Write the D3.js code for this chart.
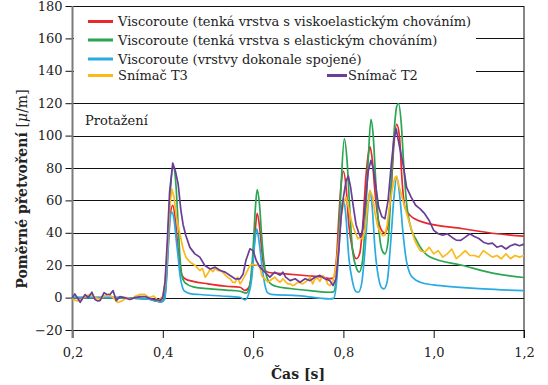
<!DOCTYPE html>
<html>
<head>
<meta charset="utf-8">
<script src="https://cdn.jsdelivr.net/npm/d3@7"></script>
<style>
  body { margin: 0; background: #fff; }
  svg text { font-family: "DejaVu Serif", serif; fill: #222; }
</style>
</head>
<body>
<svg width="548" height="385"></svg>
<script>
// tick values
const xTicks = [0.2, 0.4, 0.6, 0.8, 1.0, 1.2];
const yTicks = [-20, 0, 20, 40, 60, 80, 100, 120, 140, 160, 180];

// Viscoroute - viskoelastic
const tRed = [0.2, 0.25, 0.3, 0.35, 0.37, 0.385, 0.397, 0.404, 0.408, 0.412, 0.416, 0.422, 0.427, 0.432, 0.437, 0.442, 0.45, 0.467, 0.5, 0.54, 0.571, 0.582, 0.59, 0.597, 0.603, 0.609, 0.615, 0.62, 0.626, 0.635, 0.666, 0.72, 0.755, 0.77, 0.777, 0.785, 0.79, 0.795, 0.8, 0.806, 0.812, 0.82, 0.829, 0.836, 0.843, 0.85, 0.856, 0.859, 0.864, 0.87, 0.878, 0.886, 0.892, 0.899, 0.906, 0.912, 0.918, 0.924, 0.93, 0.936, 0.947, 0.976, 1.065, 1.14, 1.2];
const vRed = [0, 0, 0, -0.5, -1, -2, -2.5, 0, 12, 32, 50, 57, 50, 35, 22, 14, 11.5, 10, 8.5, 7, 6.4, 4.5, 6, 15, 35, 52, 42, 27, 17, 15.5, 14.8, 13.5, 12.6, 11.7, 12, 25, 50, 70, 78, 68, 45, 30, 24, 27, 45, 75, 90, 93, 85, 65, 47, 41, 40, 45, 68, 95, 107, 100, 72, 56, 51, 46.6, 42.5, 39.4, 37.9];

// Viscoroute - elastic
const tGreen = [0.2, 0.3, 0.37, 0.385, 0.397, 0.404, 0.408, 0.412, 0.416, 0.423, 0.429, 0.434, 0.438, 0.442, 0.447, 0.455, 0.47, 0.5, 0.54, 0.571, 0.585, 0.593, 0.6, 0.605, 0.609, 0.614, 0.619, 0.624, 0.63, 0.637, 0.65, 0.682, 0.73, 0.77, 0.778, 0.785, 0.79, 0.795, 0.802, 0.808, 0.814, 0.82, 0.828, 0.835, 0.842, 0.849, 0.855, 0.861, 0.866, 0.872, 0.88, 0.886, 0.892, 0.899, 0.906, 0.913, 0.918, 0.922, 0.928, 0.934, 0.94, 0.947, 0.962, 0.992, 1.065, 1.14, 1.2];
const vGreen = [0, 0, -1, -2, -2.5, 0, 15, 40, 62, 81, 70, 45, 25, 14, 10, 8, 6.5, 5.5, 4.6, 3.9, 2.8, 8, 30, 55, 66.6, 58, 38, 22, 13, 9, 7, 5.6, 4.2, 3.3, 3.5, 15, 40, 70, 98, 85, 55, 30, 19, 15.7, 22, 50, 85, 110, 100, 70, 38, 29, 27, 35, 70, 105, 118, 119.8, 108, 80, 58, 45.6, 35.3, 25, 19.8, 14.6, 12.4];

// Viscoroute - perfectly bonded
const tBlue = [0.2, 0.3, 0.37, 0.385, 0.397, 0.404, 0.408, 0.412, 0.416, 0.42, 0.425, 0.43, 0.434, 0.438, 0.442, 0.448, 0.46, 0.482, 0.53, 0.571, 0.582, 0.59, 0.597, 0.603, 0.608, 0.613, 0.62, 0.626, 0.632, 0.64, 0.7, 0.77, 0.778, 0.785, 0.79, 0.795, 0.8, 0.805, 0.812, 0.82, 0.827, 0.833, 0.84, 0.848, 0.855, 0.859, 0.864, 0.87, 0.878, 0.885, 0.89, 0.897, 0.905, 0.912, 0.918, 0.925, 0.932, 0.94, 0.947, 0.955, 0.97, 1.0, 1.05, 1.1, 1.15, 1.2];
const vBlue = [0, 0, -1, -2, -2.5, -1, 10, 30, 48, 52.8, 48, 35, 25, 14, 8, 4, 2.5, 1.9, 1, 0.2, -1.4, 2, 12, 32, 42.5, 35, 18.8, 8, 3, 2, 1.2, -0.8, -0.5, 10, 30, 52, 61, 52, 25, 10, 4, 3.3, 8, 30, 58, 66, 55, 30, 12, 6, 5.4, 10, 35, 62, 74, 62, 40, 22, 15, 12, 9.5, 7.8, 6.5, 5.5, 4.8, 4.3];

// Snimac T3
const tT3 = [0.2, 0.21, 0.22, 0.23, 0.24, 0.25, 0.26, 0.27, 0.28, 0.29, 0.3, 0.31, 0.32, 0.33, 0.34, 0.35, 0.36, 0.37, 0.38, 0.39, 0.4, 0.405, 0.41, 0.415, 0.42, 0.425, 0.43, 0.438, 0.445, 0.451, 0.46, 0.471, 0.482, 0.488, 0.494, 0.5, 0.505, 0.511, 0.516, 0.522, 0.527, 0.533, 0.538, 0.544, 0.549, 0.555, 0.56, 0.566, 0.571, 0.575, 0.582, 0.588, 0.593, 0.598, 0.604, 0.61, 0.615, 0.62, 0.626, 0.633, 0.64, 0.648, 0.655, 0.66, 0.666, 0.671, 0.677, 0.682, 0.688, 0.693, 0.699, 0.704, 0.71, 0.715, 0.72, 0.726, 0.732, 0.737, 0.743, 0.748, 0.754, 0.76, 0.765, 0.77, 0.777, 0.784, 0.79, 0.795, 0.8, 0.806, 0.812, 0.818, 0.825, 0.832, 0.838, 0.843, 0.848, 0.853, 0.859, 0.865, 0.87, 0.876, 0.882, 0.888, 0.892, 0.897, 0.903, 0.909, 0.914, 0.918, 0.924, 0.932, 0.94, 0.947, 0.953, 0.958, 0.964, 0.97, 0.98, 0.99, 1.0, 1.01, 1.02, 1.03, 1.04, 1.05, 1.06, 1.07, 1.08, 1.09, 1.1, 1.11, 1.12, 1.13, 1.14, 1.15, 1.16, 1.17, 1.18, 1.19, 1.2];
const vT3 = [-1, -2, -1, 1, 2, 0, -1, 1, 2, 0, -3, -2, 0, -1, 1, 2, 2, 0, 1, -2, 1, 8, 30, 55, 67, 62, 50, 39, 30, 25, 22, 20, 16.7, 18, 12.6, 15, 17.7, 16, 18, 16.7, 17, 15.5, 14, 12.5, 11.6, 9.5, 9.3, 12.6, 8.5, 10, 13.6, 17, 19.8, 20.5, 20.2, 20, 18.8, 13, 11.6, 9.5, 11, 12.6, 10.5, 9.5, 11.6, 10, 8.5, 8.5, 7.4, 8, 9.5, 9, 8.5, 9.5, 10.5, 12.6, 8.5, 11.6, 12, 10, 13.6, 12, 8.5, 7.4, 10.5, 20, 35, 50, 58, 62, 55, 47, 41, 36.3, 37.3, 36, 42, 55, 66, 62, 52, 44, 40, 38.3, 38.5, 45, 58, 68, 74, 75, 68, 60, 52, 45.6, 40, 35.2, 32, 29, 28, 31, 27, 29, 25, 27, 30, 24, 26.4, 29, 26, 26, 25, 29, 27, 25, 26, 24, 27, 24, 26, 25, 26];

// Snimac T2
const tT2 = [0.2, 0.205, 0.217, 0.228, 0.235, 0.243, 0.25, 0.255, 0.261, 0.27, 0.276, 0.283, 0.29, 0.297, 0.305, 0.315, 0.327, 0.338, 0.35, 0.361, 0.372, 0.383, 0.394, 0.4, 0.405, 0.41, 0.415, 0.422, 0.428, 0.434, 0.44, 0.445, 0.451, 0.46, 0.471, 0.482, 0.493, 0.505, 0.516, 0.527, 0.538, 0.549, 0.56, 0.571, 0.578, 0.584, 0.593, 0.6, 0.607, 0.615, 0.626, 0.637, 0.648, 0.66, 0.666, 0.672, 0.682, 0.693, 0.704, 0.715, 0.726, 0.737, 0.748, 0.759, 0.77, 0.777, 0.784, 0.79, 0.795, 0.8, 0.806, 0.811, 0.816, 0.821, 0.828, 0.834, 0.838, 0.843, 0.849, 0.855, 0.861, 0.866, 0.872, 0.878, 0.885, 0.892, 0.899, 0.906, 0.912, 0.917, 0.923, 0.932, 0.94, 0.95, 0.96, 0.97, 0.98, 0.99, 1.0, 1.01, 1.02, 1.03, 1.04, 1.05, 1.06, 1.07, 1.08, 1.09, 1.1, 1.11, 1.12, 1.13, 1.14, 1.15, 1.16, 1.17, 1.18, 1.19, 1.2];
const vT2 = [0, 2.3, -2.9, 1.9, 0, 3.3, -1.2, -2, -1.9, 3, 2, 1.9, 4.3, -1.9, 0.6, 0, -1.2, 0, 0.6, 0.6, -0.6, -1.2, -1.9, 0, 10, 35, 65, 83, 78, 70, 54, 45, 38.3, 31, 27, 25, 19.8, 17.7, 18.8, 16.7, 15.7, 13.6, 11.6, 11.6, 14.6, 22.9, 30.1, 29, 22.9, 18.8, 15.7, 12.6, 15.7, 13.8, 15.7, 12.6, 10.5, 11.6, 9.5, 11.6, 10.5, 12.6, 13.7, 11.6, 10.5, 7.4, 12, 30, 50, 62, 72, 75, 68, 58, 45, 40, 37.3, 42, 60, 78, 84.7, 80, 68, 56, 50, 48.7, 60, 82, 98, 104, 95, 82.7, 68, 62, 57, 54.8, 51.8, 47.6, 41.5, 39.4, 38.5, 39.4, 37.3, 35.5, 35.3, 37.3, 39.4, 37.7, 36.5, 34.2, 33.2, 33.6, 31.1, 32, 30, 32, 33, 32, 33];

const seriesNames = [
  "Viscoroute (tenká vrstva s viskoelastickým chováním)",
  "Viscoroute (tenká vrstva s elastickým chováním)",
  "Viscoroute (vrstvy dokonale spojené)",
  "Snímač T3",
  "Snímač T2"
];
const seriesColors = ["#e8282b", "#2aa552", "#29abe2", "#fbb91c", "#6a3d98"];

const series = [
  {t: tRed, v: vRed, smooth: true},
  {t: tGreen, v: vGreen, smooth: true},
  {t: tBlue, v: vBlue, smooth: true},
  {t: tT3, v: vT3, smooth: false},
  {t: tT2, v: vT2, smooth: false}
];

const svg = d3.select('svg');

const x = d3.scaleLinear().domain([0.2, 1.2]).range([72.5, 524]);
const y = d3.scaleLinear().domain([-20, 180]).range([330, 6]);

// horizontal grid lines
svg.append('g').selectAll('line').data(yTicks).enter().append('line')
  .attr('x1', x(0.2)).attr('x2', x(1.2))
  .attr('y1', d => Math.round(y(d)) + 0.5).attr('y2', d => Math.round(y(d)) + 0.5)
  .attr('stroke', '#111').attr('stroke-width', 1);

// right border
svg.append('line')
  .attr('x1', x(1.2)).attr('x2', x(1.2))
  .attr('y1', y(180)).attr('y2', y(-20) + 8)
  .attr('stroke', '#111').attr('stroke-width', 1);

// y axis
const yAxis = svg.append('g')
  .attr('transform', 'translate(' + x(0.2) + ',0)')
  .call(d3.axisLeft(y).tickValues(yTicks).tickSize(7).tickPadding(3)
    .tickFormat(d => d < 0 ? '\u2212' + Math.abs(d) : d));
yAxis.select('.domain').remove();
yAxis.selectAll('text').style('font-size', '13px').attr('fill', '#222');
yAxis.selectAll('line').attr('stroke', '#111');

// x axis
const xAxis = svg.append('g')
  .attr('transform', 'translate(0,' + y(-20) + ')')
  .call(d3.axisBottom(x).tickValues(xTicks).tickSize(8).tickPadding(10)
    .tickFormat(d => d3.format('.1f')(d).replace('.', ',')));
xAxis.select('.domain').remove();
xAxis.selectAll('text').style('font-size', '13px').attr('fill', '#222');
xAxis.selectAll('line').attr('stroke', '#111');

// legend background hides grid behind it
svg.append('rect')
  .attr('x', 74).attr('y', 8).attr('width', 402).attr('height', 82)
  .attr('fill', '#fff');

// left axis line (gray)
svg.append('line')
  .attr('x1', x(0.2)).attr('x2', x(0.2))
  .attr('y1', y(180)).attr('y2', y(-20) + 8)
  .attr('stroke', '#7a7a7a').attr('stroke-width', 2);

// data lines
const lineSmooth = d3.line().x(d => x(d[0])).y(d => y(d[1])).curve(d3.curveMonotoneX);
const lineRough = d3.line().x(d => x(d[0])).y(d => y(d[1])).curve(d3.curveLinear);

series.forEach((s, i) => {
  const pts = s.t.map((t, j) => [t, s.v[j]]);
  svg.append('path')
    .attr('d', (s.smooth ? lineSmooth : lineRough)(pts))
    .attr('fill', 'none')
    .attr('stroke', seriesColors[i])
    .attr('stroke-width', 1.7)
    .attr('stroke-linejoin', 'round');
});

// legend
const legendPos = [[88, 21.5], [88, 40], [88, 59], [88, 75.5], [327, 75.5]];
legendPos.forEach((p, i) => {
  svg.append('line')
    .attr('x1', p[0]).attr('x2', p[0] + (i == 4 ? 20 : 25))
    .attr('y1', p[1]).attr('y2', p[1])
    .attr('stroke', seriesColors[i]).attr('stroke-width', 3);
  svg.append('text')
    .attr('x', p[0] + (i == 4 ? 21 : 30)).attr('y', p[1] + 4.5)
    .style('font-size', '13px')
    .text(seriesNames[i]);
});

svg.append('text').attr('x', 85).attr('y', 125).style('font-size', '13px').text('Protažení');

// axis titles
svg.append('text')
  .attr('x', 298).attr('y', 379)
  .attr('text-anchor', 'middle')
  .style('font-size', '14px').style('font-weight', 'bold')
  .text('Čas [s]');

const yt = svg.append('text')
  .attr('transform', 'translate(27,189) rotate(-90)')
  .attr('text-anchor', 'middle')
  .style('font-size', '14px');
yt.append('tspan').style('font-weight', 'bold').text('Poměrné přetvoření ');
yt.append('tspan').text('[');
yt.append('tspan').style('font-style', 'italic').text('μ');
yt.append('tspan').text('/m]');
</script>
</body>
</html>
